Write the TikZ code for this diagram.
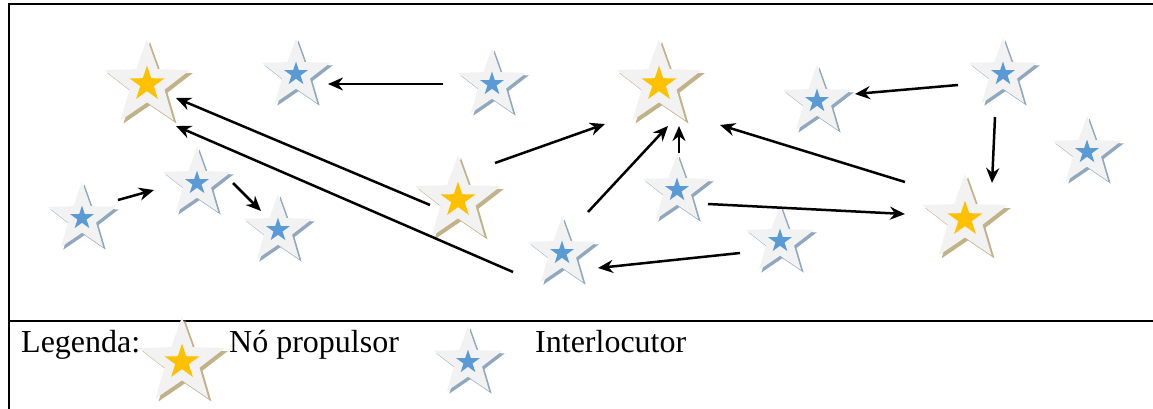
\documentclass[tikz,border=0pt]{standalone}
\usepackage{fontspec}
\setmainfont{Liberation Serif}
\usetikzlibrary{shapes.geometric,shadows,arrows.meta}
\definecolor{starbg}{HTML}{F2F2F2}
\definecolor{goldin}{HTML}{FFC000}
\definecolor{bluein}{HTML}{5B9BD5}
\definecolor{goldsh}{HTML}{C2B28A}
\definecolor{bluesh}{HTML}{8FA8C0}
\tikzset{
  outerstar/.style={star, star points=5, star point ratio=2.45, inner sep=0pt, draw=none, fill=starbg},
  gstar/.style={outerstar, minimum size=90pt, copy shadow={shadow xshift=3pt, shadow yshift=-3pt, fill=goldsh, draw=none}},
  bstar/.style={outerstar, minimum size=72pt, copy shadow={shadow xshift=2.5pt, shadow yshift=-2.5pt, fill=bluesh, draw=none}},
  ginner/.style={star, star points=5, star point ratio=2.6, inner sep=0pt, draw=none, fill=goldin, minimum size=37pt},
  binner/.style={star, star points=5, star point ratio=2.6, inner sep=0pt, draw=none, fill=bluein, minimum size=25pt},
  arr/.style={line width=2.5pt, -{Stealth[length=15pt,width=13pt]}},
  frame/.style={line width=2.2pt},
  lbl/.style={inner sep=0pt, anchor=base west, font=\fontsize{32}{38}\selectfont}
}
\begin{document}
\begin{tikzpicture}[x=1pt,y=-1pt]
\useasboundingbox (0,0) rectangle (1153,409);
% frame
\draw[frame] (9,409) coordinate (fl) -- (9,4) coordinate (ftl) -- (1153,4) coordinate (ftr);
\draw[frame] (9,321) coordinate (ml) -- (1153,321) coordinate (mr);
% gold stars
\node[gstar] (g1) at (147,84) {};
\node[gstar] (g2) at (659,84) {};
\node[gstar] (g3) at (458,200) {};
\node[gstar] (g4) at (965,219) {};
% blue stars
\node[bstar] (b1) at (296,74) {};
\node[bstar] (b2) at (492,84) {};
\node[bstar] (b3) at (817,101) {};
\node[bstar] (b4) at (1003,74) {};
\node[bstar] (b5) at (1087,152) {};
\node[bstar] (b6) at (197,183) {};
\node[bstar] (b7) at (82,218) {};
\node[bstar] (b8) at (278,230) {};
\node[bstar] (b9) at (677,190) {};
\node[bstar] (b10) at (562,253) {};
\node[bstar] (b11) at (780,241) {};
% legend stars
\node[gstar] (lg) at (182,362) {};
\node[bstar] (lb) at (468,362) {};
% inner stars
\foreach \n in {g1,g2,g3,g4,lg} \node[ginner] at (\n) {};
\foreach \n in {b1,b2,b3,b4,b5,b6,b7,b8,b9,b10,b11,lb} \node[binner] at (\n) {};
% arrows
\draw[arr] ([shift={(-49,0)}]b2.center) -- ([shift={(32,10)}]b1.center);
\draw[arr] ([shift={(-45,11)}]b4.center) -- ([shift={(38,-7)}]b3.center);
\draw[arr] ([shift={(-8,43)}]b4.center) -- ([shift={(27,-36)}]g4.center);
\draw[arr] ([shift={(37,-37)}]g3.center) -- ([shift={(-54,40)}]g2.center);
\draw[arr] ([shift={(-28,5)}]g3.center) -- ([shift={(29,14)}]g1.center);
\draw[arr] ([shift={(-49,19)}]b10.center) -- ([shift={(29,42)}]g1.center);
\draw[arr] ([shift={(26,-41)}]b10.center) -- ([shift={(9,42)}]g2.center);
\draw[arr] ([shift={(2,-37)}]b9.center) -- ([shift={(20,42)}]g2.center);
\draw[arr] ([shift={(-60,-37)}]g4.center) -- ([shift={(61,41)}]g2.center);
\draw[arr] ([shift={(31,14)}]b9.center) -- ([shift={(-60,-5)}]g4.center);
\draw[arr] ([shift={(-40,12)}]b11.center) -- ([shift={(36,15)}]b10.center);
\draw[arr] ([shift={(36,-18)}]b7.center) -- ([shift={(-43,7)}]b6.center);
\draw[arr] ([shift={(36,0)}]b6.center) -- ([shift={(-17,-19)}]b8.center);
% legend text
\node[lbl] (t1) at (21,352) {Legenda:};
\node[lbl] (t2) at (229,352) {Nó propulsor};
\node[lbl] (t3) at (535,352) {Interlocutor};
\end{tikzpicture}
\end{document}
